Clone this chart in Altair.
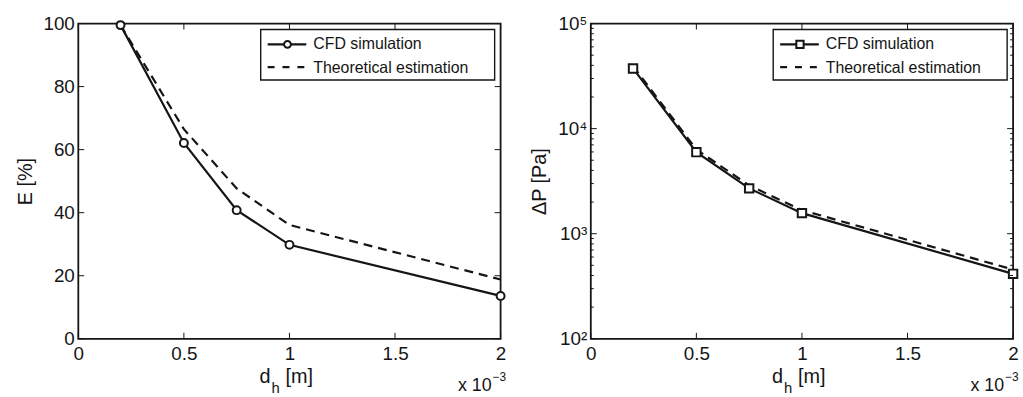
import altair as alt
import pandas as pd

# ---- data (d_h in units of 1e-3 m) ----
dh = [0.2, 0.5, 0.75, 1.0, 2.0]
eff_cfd = [99.5, 62.1, 40.8, 29.8, 13.6]
eff_theory = [99.5, 66.5, 47.7, 36.1, 18.8]
dp_cfd = [37400, 5970, 2700, 1570, 415]
dp_theory = [39400, 6330, 2880, 1675, 456]

series_names = ["CFD simulation", "Theoretical estimation"]
x_ticks = [0, 0.5, 1, 1.5, 2]
e_ticks = [0, 20, 40, 60, 80, 100]
p_ticks = [100, 1000, 10000, 100000]
p_minor = [200, 300, 400, 500, 600, 700, 800, 900,
           2000, 3000, 4000, 5000, 6000, 7000, 8000, 9000,
           20000, 30000, 40000, 50000, 60000, 70000, 80000, 90000]

W, H = 426, 318
INK = "#151515"
FONT = "Liberation Sans"
TICK = 6
MINOR = 3
LW = 2.2


def panel(y_cfd, y_th, ytitle, log, shape, size):
    df = pd.DataFrame({"x": dh * 2,
                       "y": y_cfd + y_th,
                       "series": [series_names[0]] * len(dh) + [series_names[1]] * len(dh)})
    cfd = df[df.series == series_names[0]]
    th = df[df.series == series_names[1]]

    xs = alt.Scale(domain=[0, 2], nice=False, zero=False)
    if log:
        ys = alt.Scale(type="log", domain=[100, 100000], nice=False)
        yaxis = alt.Axis(values=p_ticks, title=ytitle,
                         labelExpr="datum.value == 100 ? '10²' : datum.value == 1000 ? '10³' : datum.value == 10000 ? '10⁴' : '10⁵'")
        yt = p_ticks
    else:
        ys = alt.Scale(domain=[0, 100], nice=False)
        yaxis = alt.Axis(values=e_ticks, title=ytitle)
        yt = e_ticks
    xaxis = alt.Axis(values=x_ticks, title=None, format="~g", labelFlush=False)

    base_x = alt.X("x:Q", scale=xs, axis=xaxis)
    base_y = alt.Y("y:Q", scale=ys, axis=yaxis)

    l_th = alt.Chart(th).mark_line(color=INK, strokeWidth=LW, strokeDash=[9, 6]).encode(x=base_x, y=base_y)
    l_cfd = alt.Chart(cfd).mark_line(color=INK, strokeWidth=LW).encode(x=base_x, y=base_y)
    p_cfd = alt.Chart(cfd).mark_point(shape=shape, size=size, filled=True, fill="white",
                                      stroke=INK, strokeWidth=2, opacity=1).encode(x=base_x, y=base_y)

    xt = pd.DataFrame({"x": x_ticks})
    yt_df = pd.DataFrame({"y": yt})
    tb = alt.Chart(xt).mark_rule(color=INK, strokeWidth=1).encode(
        x=base_x, y=alt.value(H), y2=alt.value(H - TICK))
    tt = alt.Chart(xt).mark_rule(color=INK, strokeWidth=1).encode(
        x=base_x, y=alt.value(0), y2=alt.value(TICK))
    tl = alt.Chart(yt_df).mark_rule(color=INK, strokeWidth=1).encode(
        y=base_y, x=alt.value(0), x2=alt.value(TICK))
    tr = alt.Chart(yt_df).mark_rule(color=INK, strokeWidth=1).encode(
        y=base_y, x=alt.value(W), x2=alt.value(W - TICK))
    layers = [l_th, l_cfd, p_cfd, tb, tt, tl, tr]
    if log:
        mn = pd.DataFrame({"y": p_minor})
        layers.append(alt.Chart(mn).mark_rule(color=INK, strokeWidth=1).encode(
            y=base_y, x=alt.value(0), x2=alt.value(MINOR)))
        layers.append(alt.Chart(mn).mark_rule(color=INK, strokeWidth=1).encode(
            y=base_y, x=alt.value(W), x2=alt.value(W - MINOR)))

    one = alt.Data(values=[{"a": 1}])
    # legend box
    layers.append(alt.Chart(one).mark_rect(fill="white", stroke=INK, strokeWidth=1.4).encode(
        x=alt.value(184), x2=alt.value(420), y=alt.value(6), y2=alt.value(57)))
    layers.append(alt.Chart(one).mark_rule(color=INK, strokeWidth=LW).encode(
        x=alt.value(191), x2=alt.value(230), y=alt.value(21)))
    layers.append(alt.Chart(one).mark_point(shape=shape, size=size * 0.75, filled=True, fill="white",
                                            stroke=INK, strokeWidth=2, opacity=1).encode(
        x=alt.value(211), y=alt.value(21)))
    layers.append(alt.Chart(one).mark_rule(color=INK, strokeWidth=LW, strokeDash=[7, 8]).encode(
        x=alt.value(191), x2=alt.value(230), y=alt.value(44)))
    layers.append(alt.Chart(one).mark_text(align="left", baseline="middle", font=FONT, fontSize=16,
                                           color=INK).encode(
        x=alt.value(237), y=alt.value(21), text=alt.value(series_names[0])))
    layers.append(alt.Chart(one).mark_text(align="left", baseline="middle", font=FONT, fontSize=16,
                                           color=INK).encode(
        x=alt.value(237), y=alt.value(45), text=alt.value(series_names[1])))
    # x axis title d_h [m]
    layers.append(alt.Chart(one).mark_text(align="right", baseline="middle", font=FONT, fontSize=20,
                                           color=INK).encode(
        x=alt.value(194), y=alt.value(H + 39), text=alt.value("d")))
    layers.append(alt.Chart(one).mark_text(align="left", baseline="middle", font=FONT, fontSize=15,
                                           color=INK).encode(
        x=alt.value(195), y=alt.value(H + 50), text=alt.value("h")))
    layers.append(alt.Chart(one).mark_text(align="left", baseline="middle", font=FONT, fontSize=20,
                                           color=INK).encode(
        x=alt.value(209), y=alt.value(H + 39), text=alt.value("[m]")))
    # x 10^-3 multiplier
    layers.append(alt.Chart(one).mark_text(align="right", baseline="middle", font=FONT, fontSize=18,
                                           color=INK).encode(
        x=alt.value(W - 9), y=alt.value(H + 48), text=alt.value("x 10")))
    layers.append(alt.Chart(one).mark_text(align="left", baseline="middle", font=FONT, fontSize=12,
                                           color=INK).encode(
        x=alt.value(W - 8), y=alt.value(H + 39), text=alt.value("−3")))

    return alt.layer(*layers).properties(width=W, height=H)


left = panel(eff_cfd, eff_theory, "E [%]", False, "circle", 64)
right = panel(dp_cfd, dp_theory, "ΔP [Pa]", True, "square", 72)

chart = alt.hconcat(left, right, spacing=19).properties(
    padding={"left": 14, "top": 12, "right": 0, "bottom": 0}
).configure_view(
    stroke=INK, strokeWidth=1.8
).configure_axis(
    labelFont=FONT, labelFontSize=19, labelColor=INK,
    titleFont=FONT, titleFontSize=20, titleFontWeight="normal", titleColor=INK,
    ticks=False, domain=False, grid=False, labelOverlap=False
).configure_axisY(
    labelPadding=4, titlePadding=8
).configure_axisX(
    labelPadding=6
)

chart.save("out.html", embed_options={"renderer": "svg", "actions": False})
